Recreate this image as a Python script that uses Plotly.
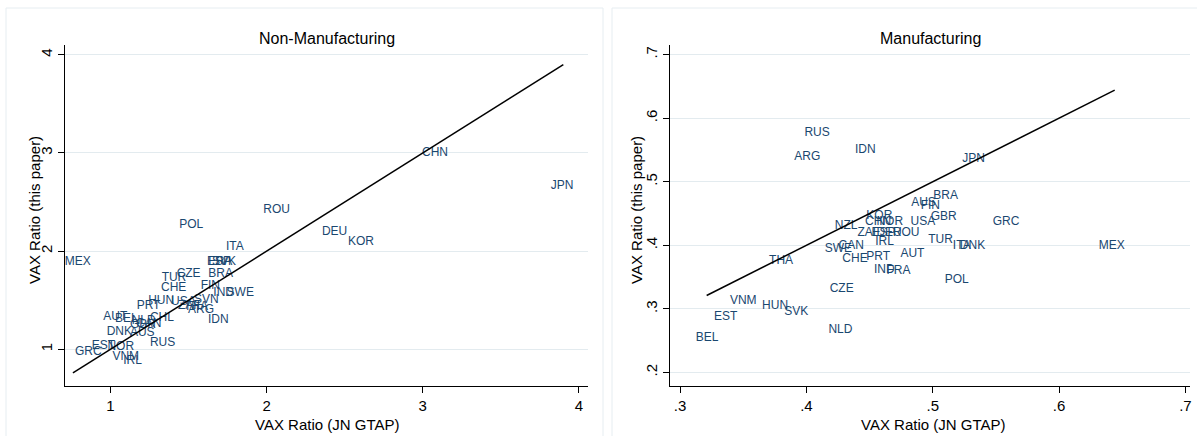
import plotly.graph_objects as go

# ---------------- Non-Manufacturing panel ----------------
nm_labels = ["MEX", "ITA", "ESP", "FRA", "SVK", "BRA", "CZE", "TUR", "CHE", "FIN",
             "IND", "SWE", "SVN", "HUN", "USA", "ZAF", "ARG", "THA", "IDN", "PRT",
             "AUT", "BEL", "NLD", "GBR", "CAN", "CHL", "DNK", "AUS", "RUS", "EST",
             "NOR", "GRC", "VNM", "IRL", "POL", "ROU", "CHN", "DEU", "KOR", "JPN"]
nm_x = [0.707, 1.740, 1.618, 1.627, 1.650, 1.627, 1.424, 1.328, 1.324, 1.578,
        1.659, 1.744, 1.535, 1.242, 1.388, 1.433, 1.497, 1.471, 1.625, 1.168,
        0.954, 1.029, 1.136, 1.125, 1.164, 1.253, 0.976, 1.125, 1.253, 0.880,
        0.981, 0.773, 1.013, 1.082, 1.441, 1.979, 2.995, 2.354, 2.521, 3.819]
nm_y = [1.890, 2.040, 1.890, 1.890, 1.890, 1.765, 1.772, 1.722, 1.620, 1.643,
        1.569, 1.569, 1.501, 1.488, 1.478, 1.437, 1.400, 1.427, 1.298, 1.443,
        1.331, 1.308, 1.288, 1.247, 1.254, 1.315, 1.179, 1.163, 1.061, 1.034,
        1.023, 0.976, 0.925, 0.878, 2.264, 2.416, 2.995, 2.192, 2.090, 2.660]
nm_line_x = [0.76, 3.90]
nm_line_y = [0.76, 3.90]
nm_ticks = [1, 2, 3, 4]
nm_ticktext = ["1", "2", "3", "4"]

# ---------------- Manufacturing panel ----------------
mf_labels = ["RUS", "IDN", "ARG", "JPN", "BRA", "AUS", "FIN", "GBR", "KOR", "CHN",
             "NOR", "USA", "GRC", "NZL", "ZAF", "ESP", "DEU", "ROU", "IRL", "TUR",
             "ITA", "DNK", "SWE", "CAN", "CHE", "PRT", "AUT", "IND", "FRA", "POL",
             "CZE", "THA", "MEX", "VNM", "HUN", "SVK", "EST", "BEL", "NLD"]
mf_x = [0.3984, 0.4384, 0.3904, 0.5234, 0.5004, 0.4829, 0.4904, 0.4984, 0.4474, 0.4464,
        0.4554, 0.4824, 0.5474, 0.4224, 0.4404, 0.4514, 0.4554, 0.4684, 0.4544, 0.4964,
        0.5159, 0.5214, 0.4144, 0.4254, 0.4284, 0.4474, 0.4744, 0.4534, 0.4634, 0.5094,
        0.4184, 0.3704, 0.6314, 0.3394, 0.3649, 0.3824, 0.3269, 0.3124, 0.4174]
mf_y = [0.577, 0.550, 0.539, 0.536, 0.478, 0.466, 0.462, 0.445, 0.4465, 0.436,
        0.436, 0.436, 0.436, 0.431, 0.419, 0.419, 0.419, 0.419, 0.4055, 0.409,
        0.399, 0.399, 0.3935, 0.399, 0.378, 0.381, 0.386, 0.361, 0.360, 0.346,
        0.331, 0.375, 0.399, 0.312, 0.304, 0.295, 0.287, 0.254, 0.2665]
mf_line_x = [0.321, 0.644]
mf_line_y = [0.321, 0.644]
mf_ticks = [0.2, 0.3, 0.4, 0.5, 0.6, 0.7]
mf_ticktext = [".2", ".3", ".4", ".5", ".6", ".7"]
mf_xticks = [0.3, 0.4, 0.5, 0.6, 0.7]
mf_xticktext = [".3", ".4", ".5", ".6", ".7"]

W, H = 1197, 436
FONT = "Liberation Sans, Arial, sans-serif"
LABEL_COLOR = "#1a476f"
GRID = "#e3ebef"

fig = go.Figure()

fig.add_trace(go.Scatter(x=nm_x, y=nm_y, text=nm_labels, mode="text",
                         textposition="middle right", cliponaxis=False,
                         textfont=dict(family=FONT, size=12, color=LABEL_COLOR),
                         xaxis="x", yaxis="y", showlegend=False, hoverinfo="text"))
fig.add_trace(go.Scatter(x=nm_line_x, y=nm_line_y, mode="lines",
                         line=dict(color="black", width=1.5),
                         xaxis="x", yaxis="y", showlegend=False))
fig.add_trace(go.Scatter(x=mf_x, y=mf_y, text=mf_labels, mode="text",
                         textposition="middle right", cliponaxis=False,
                         textfont=dict(family=FONT, size=12, color=LABEL_COLOR),
                         xaxis="x2", yaxis="y2", showlegend=False, hoverinfo="text"))
fig.add_trace(go.Scatter(x=mf_line_x, y=mf_line_y, mode="lines",
                         line=dict(color="black", width=1.5),
                         xaxis="x2", yaxis="y2", showlegend=False))

def px_x(p):
    return p / W

def px_y(p):
    return 1 - p / H

axis_common = dict(showline=True, linecolor="black", linewidth=1, ticks="outside",
                   ticklen=6, tickcolor="black", zeroline=False, automargin=False,
                   tickfont=dict(family=FONT, size=15, color="black"), mirror=False)

y_dom = [px_y(386), px_y(45)]

fig.update_layout(
    width=W, height=H,
    margin=dict(l=0, r=0, t=0, b=0),
    paper_bgcolor="white", plot_bgcolor="white",
    xaxis=dict(domain=[px_x(64.5), px_x(588)], range=[0.706, 4.058],
               tickvals=nm_ticks, ticktext=nm_ticktext, showgrid=False,
               anchor="y", **axis_common),
    yaxis=dict(domain=y_dom, range=[0.627, 4.099], tickvals=nm_ticks,
               ticktext=nm_ticktext, showgrid=True, gridcolor=GRID, gridwidth=1,
               tickangle=-90, anchor="x", **axis_common),
    xaxis2=dict(domain=[px_x(670), px_x(1190)], range=[0.292, 0.7036],
                tickvals=mf_xticks, ticktext=mf_xticktext, showgrid=False,
                anchor="y2", **axis_common),
    yaxis2=dict(domain=y_dom, range=[0.1787, 0.715], tickvals=mf_ticks,
                ticktext=mf_ticktext, showgrid=True, gridcolor=GRID, gridwidth=1,
                tickangle=-90, anchor="x2", **axis_common),
)

# Panel frames
fig.add_shape(type="rect", xref="paper", yref="paper",
              x0=px_x(6), x1=px_x(603), y0=px_y(440), y1=px_y(8),
              line=dict(color="#e6edf1", width=1), layer="below")
fig.add_shape(type="rect", xref="paper", yref="paper",
              x0=px_x(612), x1=px_x(1200), y0=px_y(440), y1=px_y(8),
              line=dict(color="#e6edf1", width=1), layer="below")

def ann(text, x, y, size, angle=0):
    fig.add_annotation(text=text, xref="paper", yref="paper", x=px_x(x), y=px_y(y),
                       showarrow=False, textangle=angle, xanchor="center", yanchor="middle",
                       font=dict(family=FONT, size=size, color="black"))

ann("Non-Manufacturing", 326.5, 39, 16)
ann("Manufacturing", 930, 39, 16)
ann("VAX Ratio (JN GTAP)", 327, 424, 15)
ann("VAX Ratio (JN GTAP)", 933, 424, 15)
ann("VAX Ratio (this paper)", 34, 210, 15, -90)
ann("VAX Ratio (this paper)", 636, 210, 15, -90)

fig.write_html("out.html",
               config={"displayModeBar": False},
               post_script="document.body.style.margin='0';document.body.style.overflow='hidden';")
